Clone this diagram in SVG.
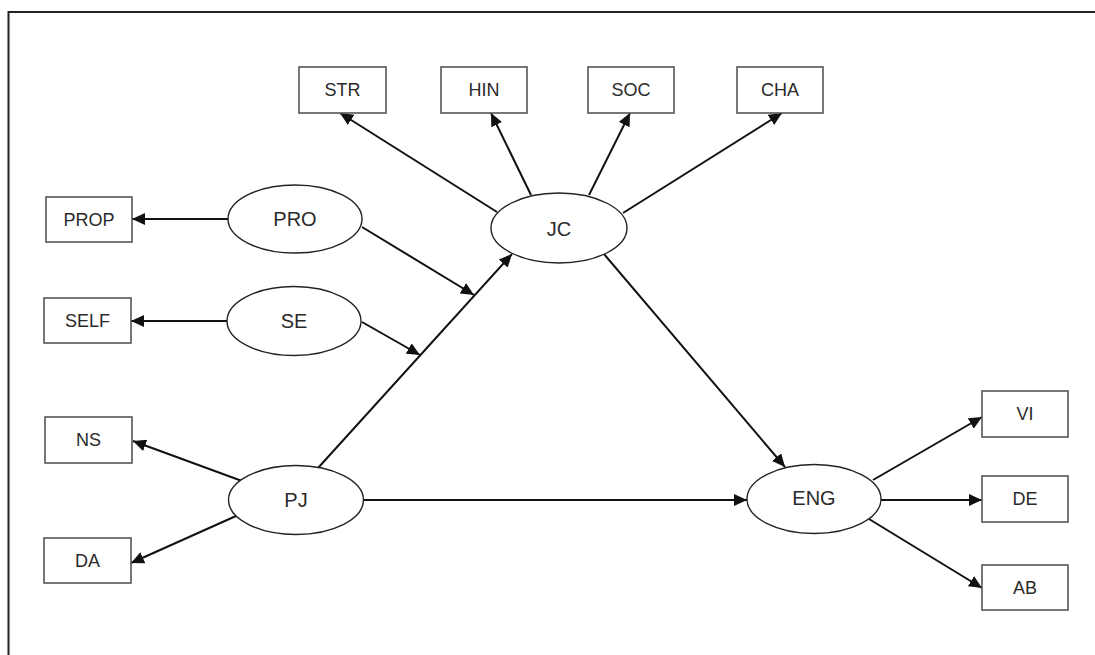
<svg xmlns="http://www.w3.org/2000/svg" width="1095" height="655" viewBox="0 0 1095 655">
  <style>
    .box { fill: #ffffff; stroke: #555555; stroke-width: 1.6; }
    .lat { fill: #ffffff; stroke: #222222; stroke-width: 1.4; }
    .lbl { font-family: "Liberation Sans", Arial, sans-serif; font-size: 18px; fill: #2a2a2a; text-anchor: middle; dominant-baseline: central; }
    .lbl-lat { font-family: "Liberation Sans", Arial, sans-serif; font-size: 20px; fill: #2a2a2a; text-anchor: middle; dominant-baseline: central; }
    .edge { fill: none; stroke: #111111; stroke-width: 2; marker-end: url(#arrow); }
    .frame { fill: none; stroke: #222222; stroke-width: 2; }
  </style>
  <defs>
    <marker id="arrow" markerUnits="userSpaceOnUse" markerWidth="14" markerHeight="12" refX="13" refY="6" orient="auto">
      <path d="M0,0 L13,6 L0,12 z" fill="#111111"/>
    </marker>
  </defs>

  <rect width="1095" height="655" fill="#ffffff"/>
  <!-- page frame: left and top rules -->
  <path class="frame" d="M8.5,655 L8.5,12 L1095,12"/>

  <!-- connectors -->
  <g id="connectors">
    <line class="edge" x1="228" y1="219" x2="132" y2="219"/>
    <line class="edge" x1="227" y1="321" x2="131" y2="321"/>
    <line class="edge" x1="497" y1="212" x2="340" y2="113"/>
    <line class="edge" x1="531" y1="195" x2="491" y2="113"/>
    <line class="edge" x1="589" y1="195" x2="630" y2="113"/>
    <line class="edge" x1="623" y1="213" x2="782" y2="113"/>
    <line class="edge" x1="604" y1="254" x2="785" y2="467"/>
    <line class="edge" x1="318" y1="468" x2="512" y2="254"/>
    <line class="edge" x1="362" y1="227" x2="474" y2="295"/>
    <line class="edge" x1="362" y1="322" x2="420" y2="355"/>
    <line class="edge" x1="242" y1="481" x2="133" y2="441"/>
    <line class="edge" x1="236" y1="516" x2="131" y2="563"/>
    <line class="edge" x1="364" y1="500" x2="747" y2="500"/>
    <line class="edge" x1="873" y1="480" x2="982" y2="417"/>
    <line class="edge" x1="881" y1="500" x2="982" y2="500"/>
    <line class="edge" x1="869" y1="519" x2="982" y2="588"/>
  </g>

  <!-- observed indicators -->
  <g id="STR"><rect class="box" x="299" y="67" width="87" height="46"/><text class="lbl" x="342.5" y="90">STR</text></g>
  <g id="HIN"><rect class="box" x="441" y="67" width="86" height="46"/><text class="lbl" x="484" y="90">HIN</text></g>
  <g id="SOC"><rect class="box" x="588" y="67" width="86" height="46"/><text class="lbl" x="631" y="90">SOC</text></g>
  <g id="CHA"><rect class="box" x="737" y="67" width="86" height="46"/><text class="lbl" x="780" y="90">CHA</text></g>
  <g id="PROP"><rect class="box" x="46" y="197" width="86" height="45"/><text class="lbl" x="89" y="219.5">PROP</text></g>
  <g id="SELF"><rect class="box" x="44" y="298" width="87" height="45"/><text class="lbl" x="87.5" y="321">SELF</text></g>
  <g id="NS"><rect class="box" x="45" y="417" width="87" height="46"/><text class="lbl" x="88.5" y="440">NS</text></g>
  <g id="DA"><rect class="box" x="44" y="538" width="87" height="45"/><text class="lbl" x="87.5" y="561">DA</text></g>
  <g id="VI"><rect class="box" x="982" y="391" width="86" height="46"/><text class="lbl" x="1025" y="414">VI</text></g>
  <g id="DE"><rect class="box" x="982" y="476" width="86" height="46"/><text class="lbl" x="1025" y="499">DE</text></g>
  <g id="AB"><rect class="box" x="982" y="565" width="86" height="45"/><text class="lbl" x="1025" y="588">AB</text></g>

  <!-- latent constructs -->
  <g id="PRO"><ellipse class="lat" cx="295" cy="219" rx="67" ry="34"/><text class="lbl-lat" x="295" y="219">PRO</text></g>
  <g id="SE"><ellipse class="lat" cx="294" cy="321" rx="67" ry="34.5"/><text class="lbl-lat" x="294" y="321">SE</text></g>
  <g id="JC"><ellipse class="lat" cx="559" cy="228" rx="68" ry="35"/><text class="lbl-lat" x="559" y="229">JC</text></g>
  <g id="PJ"><ellipse class="lat" cx="296" cy="500" rx="67.5" ry="34.5"/><text class="lbl-lat" x="296" y="500">PJ</text></g>
  <g id="ENG"><ellipse class="lat" cx="814" cy="499" rx="67" ry="34.5"/><text class="lbl-lat" x="814" y="498">ENG</text></g>
</svg>
